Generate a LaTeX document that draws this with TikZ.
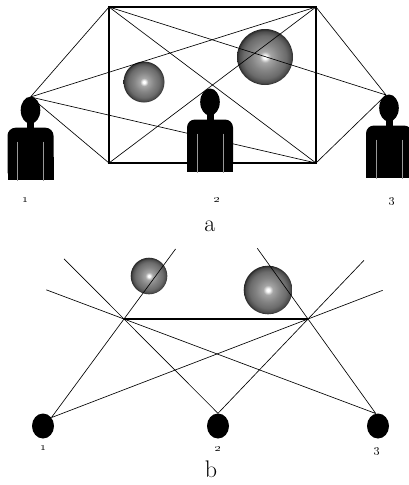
\documentclass[tikz,border=0pt]{standalone}
\usetikzlibrary{calc,shapes.geometric}

% grey glass ball with a small white highlight in the middle
\pgfdeclareradialshading{glassball}{\pgfpoint{0bp}{0bp}}{%
  color(0bp)=(white); color(1.5bp)=(white); color(5bp)=(black!35);
  color(12bp)=(black!48); color(19bp)=(black!58); color(23bp)=(black!70);
  color(25bp)=(black!85); color(50bp)=(black!85)}

\begin{document}
\begin{tikzpicture}[x=1pt,y=-1pt,
  thinline/.style={line width=0.65pt},
  frame/.style={line width=1.3pt},
  axisline/.style={line width=1.1pt},
  ball/.style={shading=glassball},
  dot/.style={ellipse,fill=black,inner sep=0pt,minimum width=22pt,minimum height=25pt},
  numlabel/.style={font=\fontsize{12}{14}\selectfont},
  caption/.style={font=\fontsize{24}{28}\selectfont},
  person/.pic={
    % head, neck and body of a standing figure; origin at the top of the head
    \fill (0,13.5) ellipse [x radius=9.8, y radius=13.5];
    \fill (-3.5,24) rectangle (3.5,33);
    \fill[rounded corners=8pt] (-23,83) -- (-23,31) -- (23,31) -- (23,83) -- cycle;
    \fill (-23,60) rectangle (23,83);
    \draw[white!60!black,line width=0.8pt] (-13,45) -- (-13,84) (13,45) -- (13,84);
  }]
\useasboundingbox (0,0) rectangle (409,485);

% ---------- part a: room seen from the front ----------
\coordinate (TL) at (109,7);
\coordinate (TR) at (316,7);
\coordinate (BL) at (109,163);
\coordinate (BR) at (316,163);
\coordinate (P1) at (30.5,97);
\coordinate (P3) at (386,95);

\shade[ball] (144,82) circle (20.5);
\shade[ball] (265,57) circle (28);

\draw[frame] (TL) rectangle (BR);
\draw[thinline] (TL) -- (BR) (TR) -- (BL);
\draw[thinline] (P1) -- (TL) (P1) -- (TR) (P1) -- (BL) (P1) -- (BR);
\draw[thinline] (P3) -- (TL) (P3) -- (TR) (P3) -- (BR);

\pic at (30.5,96.7) {person};
\pic at (210,88.5) {person};
\pic at (389,94.5) {person};

\node[numlabel] (na1) at (25.5,200) {\oldstylenums{1}};
\node[numlabel] (na2) at (217,200) {\oldstylenums{2}};
\node[numlabel] (na3) at (392,201) {\oldstylenums{3}};
\node[caption] (capa) at (210,226) {a};

% ---------- part b: the same scene seen from above ----------
\shade[ball] (149,276) circle (18.3);
\shade[ball] (268,290) circle (24.3);

\node[dot] (d1) at (43,426) {};
\node[dot] (d2) at (218,426) {};
\node[dot] (d3) at (378,426) {};

\coordinate (L) at (124,319);
\coordinate (R) at (308,319);

\coordinate (e1L) at ($(L)!-87pt!(d1.45)$);
\coordinate (e1R) at ($(R)!-80pt!(d1.45)$);
\coordinate (e2L) at ($(L)!-85pt!(d2.north)$);
\coordinate (e2R) at ($(R)!-81pt!(d2.north)$);
\coordinate (e3L) at ($(L)!-83pt!(d3.100)$);
\coordinate (e3R) at ($(R)!-87pt!(d3.100)$);

\draw[thinline] (d1.45) -- (e1L) (d1.45) -- (e1R);
\draw[thinline] (d2.north) -- (e2L) (d2.north) -- (e2R);
\draw[thinline] (d3.100) -- (e3L) (d3.100) -- (e3R);
\draw[axisline] (L) -- (R);

\node[numlabel] (nb1) at (43.5,447.5) {\oldstylenums{1}};
\node[numlabel] (nb2) at (218,449) {\oldstylenums{2}};
\node[numlabel] (nb3) at (377,451) {\oldstylenums{3}};
\node[caption] (capb) at (211,469) {b};
\end{tikzpicture}
\end{document}
